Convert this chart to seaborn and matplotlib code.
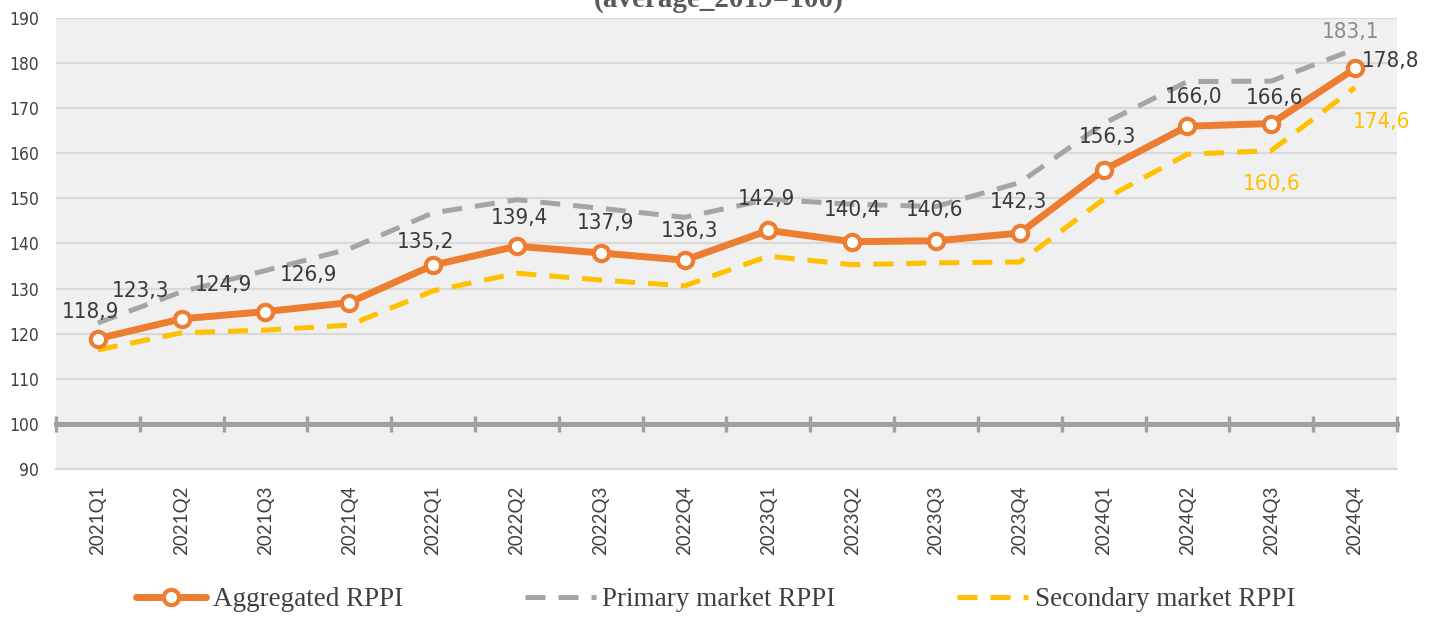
import numpy as np
import pandas as pd
import seaborn as sns
import matplotlib.pyplot as plt

# quarterly RPPI values (average 2019 = 100)
quarters = ["2021Q1", "2021Q2", "2021Q3", "2021Q4",
            "2022Q1", "2022Q2", "2022Q3", "2022Q4",
            "2023Q1", "2023Q2", "2023Q3", "2023Q4",
            "2024Q1", "2024Q2", "2024Q3", "2024Q4"]
aggregated = [118.9, 123.3, 124.9, 126.9, 135.2, 139.4, 137.9, 136.3,
              142.9, 140.4, 140.6, 142.3, 156.3, 166.0, 166.6, 178.8]
primary = [122.4, 129.3, 134.0, 138.8, 146.8, 149.7, 147.8, 145.8,
           149.8, 148.7, 148.2, 153.5, 166.6, 175.9, 176.0, 183.1]
secondary = [116.4, 120.2, 120.8, 121.9, 129.5, 133.4, 131.9, 130.6,
             137.2, 135.3, 135.7, 135.9, 149.8, 159.8, 160.6, 174.6]

ORANGE = "#ED7D31"
GREY = "#A5A5A5"
YELLOW = "#FFC000"
TEXT = "#3A3A3A"

sns.set_style("white")

df = pd.DataFrame({"pos": np.arange(len(quarters)), "quarter": quarters,
                   "agg": aggregated, "prim": primary, "sec": secondary})

fig = plt.figure(figsize=(14.31, 6.18), dpi=100)
ax = fig.add_axes([0.0391, 0.2411, 0.9371, 0.7298])
ax.set_facecolor("#F0F0F0")

sns.lineplot(data=df, x="pos", y="prim", ax=ax, color=GREY, lw=3.6,
             label="Primary market RPPI", zorder=3)
ax.lines[-1].set_dashes((4, 2.6))
sns.lineplot(data=df, x="pos", y="sec", ax=ax, color=YELLOW, lw=3.6,
             label="Secondary market RPPI", zorder=3)
ax.lines[-1].set_dashes((4, 2.6))
sns.lineplot(data=df, x="pos", y="agg", ax=ax, color=ORANGE, lw=5,
             marker="o", markersize=11, markerfacecolor="white",
             markeredgecolor=ORANGE, markeredgewidth=3,
             label="Aggregated RPPI", zorder=4)

ax.set_xlim(-0.5, len(quarters) - 0.5)
ax.set_ylim(90, 190)
ax.set_yticks(np.arange(90, 191, 10))
ax.set_xticks(df["pos"])
ax.set_xticklabels(quarters, rotation=90, fontsize=13.5, color="#404040",
                   family=["Lato", "DejaVu Sans"])
ax.tick_params(axis="x", length=0, pad=12)
ax.tick_params(axis="y", length=0, pad=12, labelsize=12.5, labelcolor="#404040")
for lbl in ax.get_yticklabels():
    lbl.set_fontstretch("condensed")
ax.set_xlabel("")
ax.set_ylabel("")

ax.grid(axis="y", color="#D9D9D9", lw=1.6, zorder=0)
ax.set_axisbelow(True)
ax.get_ygridlines()[1].set_visible(False)  # 100 gets the thick base line
for side in ["top", "left", "right"]:
    ax.spines[side].set_visible(False)
ax.spines["bottom"].set_color("#D9D9D9")
ax.spines["bottom"].set_linewidth(1.6)

# thick base line at 100 with boundary ticks
base = ax.secondary_xaxis(0.1)
base.set_xticks(np.arange(-0.5, len(quarters), 1))
base.set_xticklabels([])
base.tick_params(direction="inout", length=12, width=2.4, color="#A0A0A0")
base.spines["top"].set_visible(False)
base.spines["bottom"].set_color("#A0A0A0")
base.spines["bottom"].set_linewidth(3.6)

# data labels (offsets in pixels)
agg_offsets = [(-7, 27), (-41, 28), (-42, 27), (-41, 28), (-8, 23), (3, 28),
               (5, 30), (5, 29), (-2, 31), (0, 32), (-1, 31), (-1, 31),
               (4, 33), (6, 29), (3, 26), (36, 7)]
label_font = dict(fontsize=16, fontstretch="condensed", family="DejaVu Sans")
for i, (dx, dy) in enumerate(agg_offsets):
    ax.annotate(f"{aggregated[i]:.1f}".replace(".", ","), (df["pos"][i], aggregated[i]),
                xytext=(dx * 0.72, dy * 0.72), textcoords="offset points",
                ha="center", va="center", color=TEXT, zorder=5, **label_font)
ax.annotate(f"{primary[-1]:.1f}".replace(".", ","), (df["pos"].iloc[-1], primary[-1]),
            xytext=(-4 * 0.72, 17 * 0.72), textcoords="offset points",
            ha="center", va="center", color="#8C8C8C", **label_font)
for i, (dx, dy) in [(14, (0, -33)), (15, (26, -35))]:
    ax.annotate(f"{secondary[i]:.1f}".replace(".", ","), (df["pos"][i], secondary[i]),
                xytext=(dx * 0.72, dy * 0.72), textcoords="offset points",
                ha="center", va="center", color=YELLOW, **label_font)

# legend below the chart
handles, labels = ax.get_legend_handles_labels()
ax.get_legend().remove()
order = [2, 0, 1]
fig.legend([handles[k] for k in order], [labels[k] for k in order],
           loc="lower center", bbox_to_anchor=(0.5, -0.03), ncol=3,
           frameon=False, handlelength=2.6, handletextpad=0.25,
           columnspacing=4.5,
           prop={"family": ["Liberation Serif", "DejaVu Serif"], "size": 19.5})
for lt in fig.legends[0].get_texts():
    lt.set_color("#404040")

# title, cut off at the top edge as in the source image
fig.text(0.502, 0.990, "(average_2019=100)", ha="center", va="baseline",
         fontsize=21, fontweight="bold", color="#5A5A5A",
         family=["Liberation Serif", "DejaVu Serif"])

fig.savefig("out.png", dpi=100)
